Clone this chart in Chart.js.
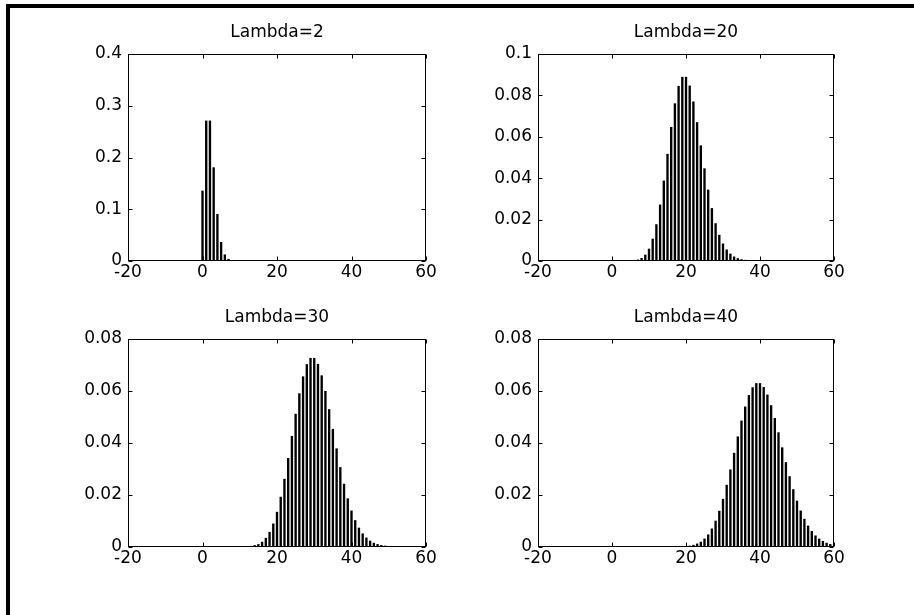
<!DOCTYPE html>
<html><head><meta charset="utf-8">
<script src="https://cdn.jsdelivr.net/npm/chart.js@4.4.0/dist/chart.umd.min.js"></script>
<style>
html,body{margin:0;padding:0;background:#fff;width:914px;height:615px;overflow:hidden;}
#frame{position:absolute;left:6px;top:4px;width:908px;height:611px;border-top:4px solid #000;border-left:4px solid #000;box-sizing:border-box;}
.box{position:absolute;}
canvas{display:block;}
</style></head><body>
<div id="frame"></div>
<div class="box" id="b0"><canvas id="c0"></canvas></div>
<div class="box" id="b1"><canvas id="c1"></canvas></div>
<div class="box" id="b2"><canvas id="c2"></canvas></div>
<div class="box" id="b3"><canvas id="c3"></canvas></div>
<script>
// ---- data ----
const titles = ["Lambda=2", "Lambda=20", "Lambda=30", "Lambda=40"];
const xTickRange = [-20, 60];
const k2 = [0,1,2,3,4,5,6,7,8,9];
const p2 = [0.1353,0.2707,0.2707,0.1804,0.0902,0.0361,0.0120,0.0034,0.0009,0.0002];
const k20 = [6,7,8,9,10,11,12,13,14,15,16,17,18,19,20,21,22,23,24,25,26,27,28,29,30,31,32,33,34,35,36,37,38];
const p20 = [0.0002,0.0005,0.0013,0.0029,0.0058,0.0106,0.0176,0.0271,0.0387,0.0516,0.0646,0.0760,0.0844,0.0888,0.0888,0.0846,0.0769,0.0669,0.0557,0.0446,0.0343,0.0254,0.0181,0.0125,0.0083,0.0054,0.0034,0.0020,0.0012,0.0007,0.0004,0.0002,0.0001];
const k30 = [12,13,14,15,16,17,18,19,20,21,22,23,24,25,26,27,28,29,30,31,32,33,34,35,36,37,38,39,40,41,42,43,44,45,46,47,48,49,50,51];
const p30 = [0.0002,0.0003,0.0006,0.0010,0.0019,0.0034,0.0057,0.0089,0.0134,0.0192,0.0261,0.0341,0.0426,0.0511,0.0590,0.0655,0.0702,0.0726,0.0726,0.0703,0.0659,0.0599,0.0529,0.0453,0.0378,0.0306,0.0242,0.0186,0.0139,0.0102,0.0073,0.0051,0.0035,0.0023,0.0015,0.0010,0.0006,0.0004,0.0002,0.0001];
const k40 = [19,20,21,22,23,24,25,26,27,28,29,30,31,32,33,34,35,36,37,38,39,40,41,42,43,44,45,46,47,48,49,50,51,52,53,54,55,56,57,58,59,60];
const p40 = [0.0001,0.0002,0.0004,0.0007,0.0012,0.0019,0.0031,0.0047,0.0070,0.0100,0.0138,0.0184,0.0238,0.0297,0.0361,0.0424,0.0485,0.0539,0.0583,0.0613,0.0629,0.0629,0.0614,0.0585,0.0544,0.0495,0.0440,0.0382,0.0325,0.0271,0.0221,0.0177,0.0139,0.0107,0.0081,0.0060,0.0043,0.0031,0.0022,0.0015,0.0010,0.0007];
const yMaxes = [0.4, 0.1, 0.08, 0.08];
const ySteps = [0.1, 0.02, 0.02, 0.02];

// ---- layout / style ----
const FONT = "'DejaVu Sans', sans-serif";
const rects = [
  {L:128, T:54, R:426, B:261},
  {L:538, T:54, R:834, B:261},
  {L:128, T:339, R:426, B:547},
  {L:538, T:339, R:834, B:547}
];
const YW = 60, TH = 35, XH = 30, RP = 60;

const boxPlugin = {
  id: 'mbox',
  afterDraw(chart) {
    const {ctx, chartArea: a, scales: {x, y}} = chart;
    ctx.save();
    ctx.strokeStyle = '#000';
    ctx.lineWidth = 1;
    const l = Math.round(a.left) + 0.5, r = Math.round(a.right) - 0.5;
    const t = Math.round(a.top) + 0.5, b = Math.round(a.bottom) - 0.5;
    ctx.strokeRect(l, t, r - l, b - t);
    ctx.beginPath();
    x.ticks.forEach(tk => {
      const px = Math.round(x.getPixelForValue(tk.value)) + 0.5;
      ctx.moveTo(px, b); ctx.lineTo(px, b - 4);
      ctx.moveTo(px, t); ctx.lineTo(px, t + 4);
    });
    y.ticks.forEach(tk => {
      const py = Math.round(y.getPixelForValue(tk.value)) + 0.5;
      ctx.moveTo(l, py); ctx.lineTo(l + 4, py);
      ctx.moveTo(r, py); ctx.lineTo(r - 4, py);
    });
    ctx.stroke();
    ctx.restore();
  }
};

function fmt(v) { return String(parseFloat(Number(v).toFixed(4))); }

function makeChart(i, ks, ps) {
  const rect = rects[i];
  const w = YW + (rect.R - rect.L) + RP, h = TH + (rect.B - rect.T) + XH;
  const div = document.getElementById('b' + i);
  div.style.left = (rect.L - YW) + 'px';
  div.style.top = (rect.T - TH) + 'px';
  div.style.width = w + 'px';
  div.style.height = h + 'px';
  const cv = document.getElementById('c' + i);
  cv.width = w; cv.height = h;
  cv.style.width = w + 'px'; cv.style.height = h + 'px';
  new Chart(cv, {
    type: 'bar',
    data: {
      datasets: [{
        data: ks.map((x, j) => ({x: x, y: ps[j]})),
        backgroundColor: '#000',
        borderWidth: 0,
        barThickness: 1.7,
        xAxisID: 'x',
        yAxisID: 'y'
      }]
    },
    options: {
      responsive: false,
      animation: false,
      devicePixelRatio: 1,
      layout: {padding: 0},
      plugins: {
        legend: {display: false},
        tooltip: {enabled: false},
        title: {
          display: true, text: titles[i], color: '#000',
          font: {family: FONT, size: 17, weight: 'normal', lineHeight: '20px'},
          padding: {top: 4, bottom: 11}
        }
      },
      scales: {
        x: {
          type: 'linear', min: xTickRange[0], max: xTickRange[1], offset: false,
          grid: {display: false, drawTicks: false},
          border: {display: false},
          ticks: {stepSize: 20, color: '#000', font: {family: FONT, size: 17}, padding: 1, maxRotation: 0, autoSkip: false},
          afterFit(s) { s.height = XH; }
        },
        y: {
          position: 'left',
          min: 0, max: yMaxes[i],
          grid: {display: false, drawTicks: false},
          border: {display: false},
          ticks: {stepSize: ySteps[i], color: '#000', font: {family: FONT, size: 17}, padding: 6, callback: v => fmt(v)},
          afterFit(s) { s.width = YW; }
        },
        yR: {
          position: 'right',
          display: true,
          min: 0, max: 1,
          grid: {display: false, drawTicks: false},
          border: {display: false},
          ticks: {display: false},
          afterFit(s) { s.width = RP; }
        }
      }
    },
    plugins: [boxPlugin]
  });
}

makeChart(0, k2, p2);
makeChart(1, k20, p20);
makeChart(2, k30, p30);
makeChart(3, k40, p40);
</script>
</body></html>
